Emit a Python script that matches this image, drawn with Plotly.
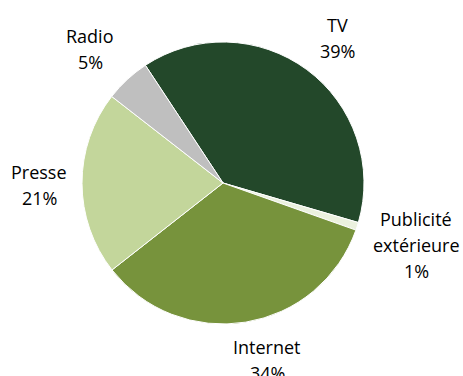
import plotly.graph_objects as go

labels = ["TV", "Publicité extérieure", "Internet", "Presse", "Radio"]
label_lines = [["TV"], ["Publicité", "extérieure"], ["Internet"], ["Presse"], ["Radio"]]
values = [38.8, 0.9, 34.0, 21.1, 5.2]
colors = ["#23482A", "#EBF1DE", "#77933C", "#C3D69B", "#BFBFBF"]

# label positions in pixels: (centre x, first line centre y)
label_pos = [(337, 25), (416, 219), (267, 347), (39, 172), (90, 36)]
line_gap = 26

W, H = 463, 376
total = sum(values)

fig = go.Figure(go.Pie(
    labels=labels,
    values=values,
    sort=False,
    direction="clockwise",
    rotation=-33.4,
    marker=dict(colors=colors, line=dict(color="white", width=1)),
    textinfo="none",
    hoverinfo="label+percent",
    showlegend=False,
    domain=dict(x=[82 / W, 364 / W], y=[1 - 324 / H, 1 - 42 / H]),
))

for lines, v, (px, py) in zip(label_lines, values, label_pos):
    all_lines = lines + [f"{round(v / total * 100):.0f}%"]
    for i, ln in enumerate(all_lines):
        fig.add_annotation(
            x=px / W, y=1 - (py + i * line_gap) / H, xref="paper", yref="paper",
            text=ln, showarrow=False, xanchor="center", yanchor="middle",
            font=dict(family="Open Sans", size=18, color="#000000"),
        )

fig.update_layout(
    width=W, height=H,
    margin=dict(l=0, r=0, t=0, b=0),
    paper_bgcolor="white",
    plot_bgcolor="white",
)

fig.write_html("out.html")
